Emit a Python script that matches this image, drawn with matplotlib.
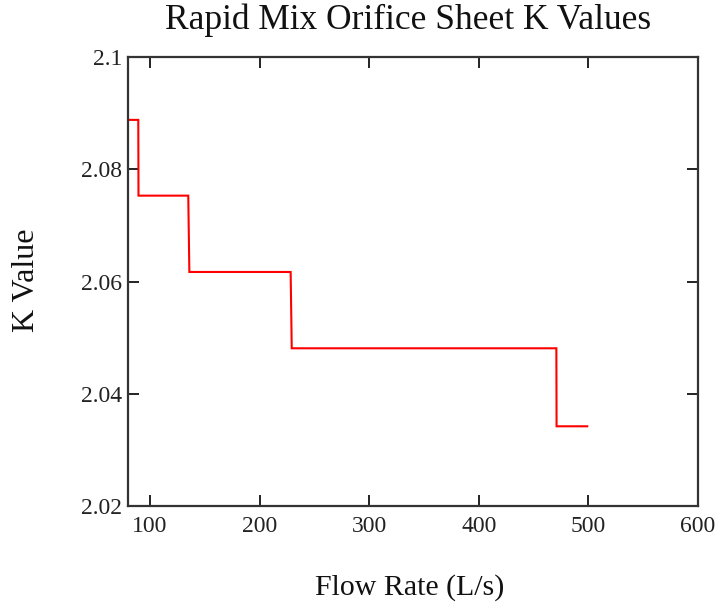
import matplotlib
matplotlib.use("Agg")
import matplotlib.pyplot as plt

# Orifice sheet K value versus flow rate (step changes between orifice counts)
flow = [80, 89.4, 89.6, 135, 136, 228.4, 229.4, 470.8, 471, 499]
k_value = [2.0888, 2.0888, 2.0753, 2.0753, 2.0617, 2.0617, 2.0481, 2.0481, 2.0342, 2.0342]

x_ticks = [100, 200, 300, 400, 500, 600]
y_ticks = [2.02, 2.04, 2.06, 2.08, 2.1]
y_tick_labels = ["2.02", "2.04", "2.06", "2.08", "2.1"]

plt.rcParams["font.family"] = ["Liberation Serif", "DejaVu Serif"]

fig = plt.figure(figsize=(7.23, 6.08), dpi=100)
ax = fig.add_axes([0.177, 0.1678, 0.7884, 0.7384])

ax.plot(flow, k_value, color="#ff0000", lw=1.5, solid_joinstyle="miter")

ax.set_xlim(80, 600)
ax.set_ylim(2.02, 2.1)
ax.set_xticks(x_ticks)
ax.set_yticks(y_ticks)
ax.set_yticklabels(y_tick_labels)

ax.tick_params(direction="in", length=8, width=1.4, color="#222222",
               top=True, right=True, labelsize=17, pad=7,
               labelcolor="#222222")
ax.tick_params(axis="y", pad=4)
for s in ax.spines.values():
    s.set_linewidth(1.6)
    s.set_color("#333333")

fig.text(0.564, 0.967, "Rapid Mix Orifice Sheet K Values", ha="center", va="center",
         fontsize=25.5, color="#111111")
fig.text(0.567, 0.033, "Flow Rate (L/s)", ha="center", va="center",
         fontsize=21.5, color="#111111")
fig.text(0.036, 0.539, "K Value", ha="center", va="center", rotation=90,
         fontsize=23, color="#111111")

fig.savefig("out.png", dpi=100)
